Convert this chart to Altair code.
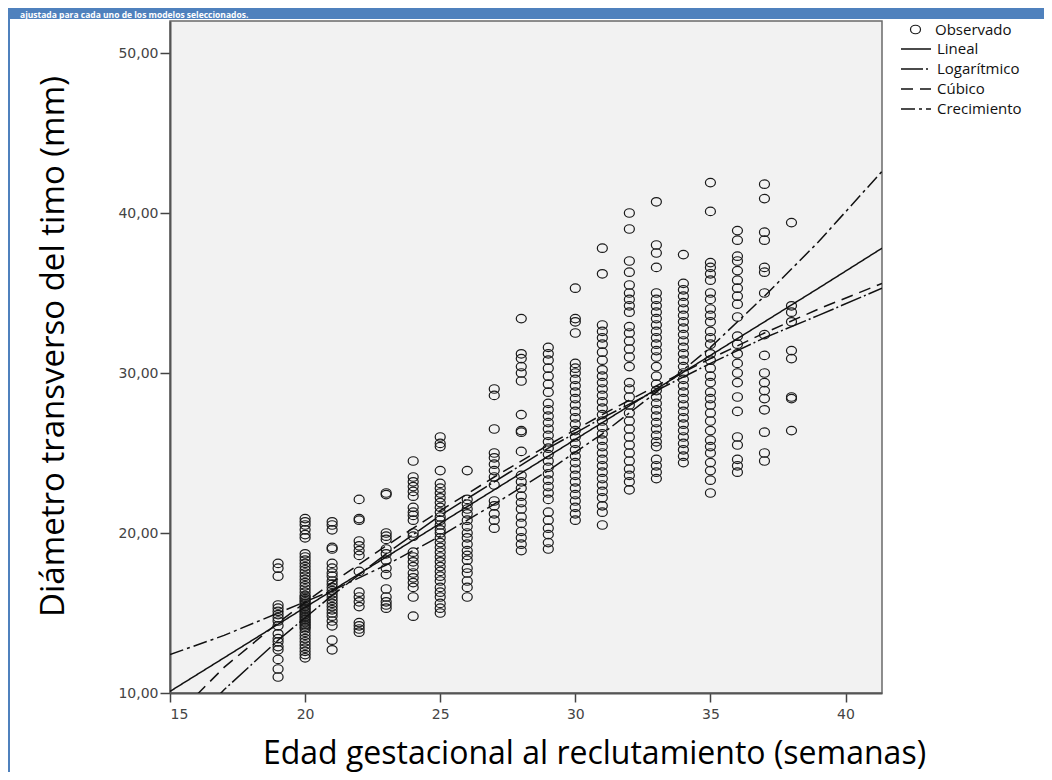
import altair as alt
import pandas as pd

# ---------------- data ----------------
semanas = list(range(19, 39))

y19 = [18.1, 17.8, 17.3, 15.5, 15.3, 15.1, 14.9, 14.7, 14.5, 14.2, 13.7, 13.4, 13.2, 12.9, 12.7, 12.1, 11.5, 11.0]
y20 = [20.9, 20.7, 20.5, 20.2, 19.9, 19.7, 18.7, 18.5, 18.3, 18.1, 17.9, 17.7, 17.5, 17.3, 17.1, 16.9, 16.7,
       16.5, 16.3, 16.1, 16.0, 15.9, 15.8, 15.7, 15.6, 15.5, 15.4, 15.3, 15.2, 15.1, 15.0, 14.9, 14.8, 14.7,
       14.6, 14.5, 14.4, 14.3, 14.2, 14.1, 14.0, 13.8, 13.6, 13.4, 13.2, 13.0, 12.8, 12.6, 12.4, 12.2]
y21 = [20.7, 20.5, 20.2, 19.1, 19.0, 18.1, 17.8, 17.5, 17.3, 17.0, 16.8, 16.6, 16.4, 16.2, 16.0, 15.8, 15.6,
       15.4, 15.2, 15.0, 14.8, 14.5, 14.2, 13.3, 12.7]
y22 = [22.1, 20.9, 20.8, 19.5, 19.2, 18.9, 18.6, 17.6, 16.3, 16.0, 15.7, 15.4, 14.4, 14.2, 14.0, 13.8]
y23 = [22.5, 22.4, 20.0, 19.8, 19.6, 19.0, 18.7, 18.3, 17.8, 17.4, 16.5, 16.0, 15.7, 15.5, 15.3]
y24 = [24.5, 23.5, 23.2, 22.9, 22.6, 22.3, 21.6, 21.3, 21.1, 20.8, 20.0, 19.8, 18.8, 18.5, 18.2, 17.9, 17.5,
       17.2, 16.9, 16.6, 16.0, 14.8]
y25 = [26.0, 25.6, 25.4, 23.9, 23.1, 22.8, 22.5, 22.2, 21.9, 21.6, 21.3, 21.0, 20.8, 20.5, 20.2, 20.0, 19.7,
       19.4, 19.1, 18.8, 18.5, 18.2, 17.9, 17.6, 17.3, 17.0, 16.6, 16.3, 16.0, 15.6, 15.3, 15.0]
y26 = [23.9, 22.1, 21.8, 21.5, 21.2, 20.8, 20.4, 20.0, 19.7, 19.3, 18.9, 18.6, 18.3, 17.8, 17.5, 17.0, 16.6, 16.0]
y27 = [29.0, 28.6, 26.5, 25.0, 24.7, 24.3, 23.9, 23.5, 23.0, 22.0, 21.7, 21.2, 20.8, 20.3]
y28 = [33.4, 31.2, 30.9, 30.4, 30.0, 29.5, 27.4, 26.4, 26.3, 25.1, 23.6, 23.2, 22.8, 22.3, 21.9, 21.5, 21.0,
       20.6, 20.1, 19.7, 19.3, 18.9]
y29 = [31.6, 31.2, 30.8, 30.3, 29.8, 29.3, 28.8, 28.1, 27.7, 27.3, 26.9, 26.5, 26.1, 25.7, 25.3, 24.9, 24.5,
       24.1, 23.7, 23.3, 22.9, 22.5, 22.1, 21.3, 20.8, 20.3, 19.9, 19.4, 19.0]
y30 = [35.3, 33.4, 33.2, 32.5, 30.6, 30.3, 30.0, 29.6, 29.2, 28.8, 28.4, 28.0, 27.6, 27.2, 26.8, 26.4, 26.0,
       25.6, 25.2, 24.8, 24.4, 24.0, 23.6, 23.2, 22.8, 22.4, 22.0, 21.6, 21.2, 20.8]
y31 = [37.8, 36.2, 33.0, 32.6, 32.2, 31.8, 31.3, 30.8, 30.2, 29.8, 29.4, 29.0, 28.6, 28.2, 27.8, 27.4, 27.0,
       26.6, 26.2, 25.8, 25.4, 25.0, 24.6, 24.2, 23.8, 23.4, 23.0, 22.6, 22.2, 21.7, 21.3, 20.5]
y32 = [40.0, 39.0, 37.0, 36.3, 35.5, 35.0, 34.6, 34.2, 33.8, 32.9, 32.5, 32.0, 31.5, 31.0, 30.4, 29.4, 29.0,
       28.5, 28.0, 27.5, 27.0, 26.5, 26.0, 25.5, 25.0, 24.5, 24.0, 23.6, 23.2, 22.7]
y33 = [40.7, 38.0, 37.5, 36.6, 35.0, 34.6, 34.2, 33.8, 33.4, 33.0, 32.6, 32.2, 31.8, 31.4, 31.0, 30.4, 29.8,
       29.3, 28.9, 28.5, 28.1, 27.7, 27.3, 26.9, 26.5, 26.1, 25.7, 25.4, 24.6, 24.2, 23.8, 23.4]
y34 = [37.4, 35.6, 35.2, 34.8, 34.4, 34.0, 33.6, 33.2, 32.8, 32.4, 32.0, 31.6, 31.2, 30.8, 30.4, 30.0, 29.6,
       29.2, 28.8, 28.4, 28.0, 27.6, 27.2, 26.8, 26.4, 26.0, 25.6, 25.2, 24.8, 24.4]
y35 = [41.9, 40.1, 36.9, 36.6, 36.2, 35.8, 35.0, 34.6, 34.0, 33.6, 33.2, 32.6, 32.2, 31.8, 31.2, 30.8, 30.3,
       29.8, 29.4, 28.8, 28.4, 28.0, 27.5, 27.0, 26.4, 25.8, 25.4, 25.0, 24.4, 23.9, 23.3, 22.5]
y36 = [38.9, 38.3, 37.3, 37.0, 36.4, 35.8, 35.3, 34.8, 34.3, 33.5, 32.3, 31.8, 31.2, 30.6, 30.0, 29.4, 28.5,
       27.6, 26.0, 25.5, 24.6, 24.2, 23.8]
y37 = [41.8, 40.9, 38.8, 38.3, 36.6, 36.3, 35.0, 32.4, 31.1, 30.0, 29.4, 28.9, 28.4, 27.7, 26.3, 25.0, 24.5]
y38 = [39.4, 34.2, 33.8, 33.2, 31.4, 30.9, 28.5, 28.4, 26.4]

observados = [y19, y20, y21, y22, y23, y24, y25, y26, y27, y28, y29, y30,
              y31, y32, y33, y34, y35, y36, y37, y38]

# fitted curves at these gestational ages
fit_x = [15, 17, 19, 21, 23, 25, 27, 29, 31, 33, 35, 37, 39, 41.35]
lineal_y = [10.1, 12.2, 14.3, 16.4, 18.5, 20.6, 22.7, 24.8, 26.9, 29.0, 31.1, 33.2, 35.3, 37.8]
log_y = [6.6, 10.2, 13.3, 16.1, 18.7, 21.1, 23.2, 25.3, 27.2, 28.9, 30.6, 32.2, 33.6, 35.3]
cubico_y = [8.2, 11.6, 14.4, 16.9, 19.2, 21.4, 23.5, 25.5, 27.4, 29.2, 30.9, 32.5, 34.0, 35.6]
crec_y = [12.4, 13.6, 15.0, 16.4, 18.0, 19.8, 21.8, 23.9, 26.2, 28.8, 31.6, 34.8, 38.2, 42.6]

modelos = ["Lineal", "Logarítmico", "Cúbico", "Crecimiento"]
curvas = [lineal_y, log_y, cubico_y, crec_y]
dashes = [[1, 0], [22, 3, 2, 3], [12, 7], [14, 4, 3, 4]]

x_ticks = [15, 20, 25, 30, 35, 40]
y_ticks = [10, 20, 30, 40, 50]

titulo = "ajustada para cada uno de los modelos seleccionados."

# ---------------- tables ----------------
obs_rows = []
for w, vals in zip(semanas, observados):
    for v in vals:
        obs_rows.append({"semana": w, "diametro": v, "serie": "Observado"})
obs_df = pd.DataFrame(obs_rows)

fit_rows = []
for m, ys in zip(modelos, curvas):
    for i, (xv, yv) in enumerate(zip(fit_x, ys)):
        fit_rows.append({"semana": xv, "diametro": yv, "modelo": m, "orden": i})
fit_df = pd.DataFrame(fit_rows)

deco_df = pd.DataFrame({"k": [0]})

# ---------------- scales ----------------
xs = alt.Scale(domain=[15, 41.35], nice=False, zero=False)
ys = alt.Scale(domain=[10, 52], nice=False, zero=False)

x_axis = alt.Axis(
    values=x_ticks, grid=False, tickSize=9, tickWidth=1.5, tickColor="#444",
    domainColor="#555", domainWidth=2,
    labelFont="DejaVu Sans", labelFontSize=14, labelColor="#444", labelPadding=5,
    title="Edad gestacional al reclutamiento (semanas)",
    titleFont="Open Sans", titleFontSize=32, titleFontWeight="normal", titleColor="#000",
    titleX=424, titleY=70, titleAlign="center", titleBaseline="alphabetic",
)
y_axis = alt.Axis(
    values=y_ticks, grid=False, tickSize=10, tickWidth=1.5, tickColor="#444",
    domainColor="#555", domainWidth=2,
    labelFont="DejaVu Sans", labelFontSize=14, labelColor="#444", labelPadding=2,
    labelExpr="replace(format(datum.value, '.2f'), '.', ',')",
    title="Diámetro transverso del timo (mm)",
    titleFont="Open Sans", titleFontSize=33, titleFontWeight="normal", titleColor="#000",
    titleX=-107, titleY=325, titleAlign="center", titleBaseline="alphabetic", titleAngle=270,
)

ellipse = "M-1,0A1,0.85,0,1,1,1,0A1,0.85,0,1,1,-1,0Z"

points = alt.Chart(obs_df).mark_point(
    filled=False, size=100, strokeWidth=1.2, opacity=1, color="#1a1a1a"
).encode(
    x=alt.X("semana:Q", scale=xs, axis=x_axis),
    y=alt.Y("diametro:Q", scale=ys, axis=y_axis),
    shape=alt.Shape(
        "serie:N",
        scale=alt.Scale(domain=["Observado"], range=[ellipse]),
        legend=alt.Legend(
            orient="none", legendX=738, legendY=1, title=None,
            labelFont="Open Sans", labelFontSize=15, labelColor="#111",
            labelOffset=12, symbolSize=100, symbolStrokeWidth=1.2,
            symbolStrokeColor="#1a1a1a", symbolFillColor="transparent", padding=0,
        ),
    ),
)

lines = alt.Chart(fit_df).mark_line(
    clip=True, color="#111", strokeWidth=1.5
).encode(
    x=alt.X("semana:Q", scale=xs),
    y=alt.Y("diametro:Q", scale=ys),
    order="orden:Q",
    strokeDash=alt.StrokeDash(
        "modelo:N",
        scale=alt.Scale(domain=modelos, range=dashes),
        sort=modelos,
        legend=alt.Legend(
            orient="none", legendX=730, legendY=20, title=None,
            labelFont="Open Sans", labelFontSize=15, labelColor="#111",
            labelOffset=5, symbolSize=900, symbolStrokeWidth=1.5,
            symbolStrokeColor="#111", symbolType="stroke",
            clipHeight=16, rowPadding=4, padding=0,
        ),
    ),
)

banner = alt.Chart(deco_df).mark_rect(color="#4f81bd").encode(
    x=alt.value(-175), x2=alt.value(1100), y=alt.value(-20), y2=alt.value(-2)
)
side = alt.Chart(deco_df).mark_rect(color="#4f81bd").encode(
    x=alt.value(-175), x2=alt.value(-160), y=alt.value(-20), y2=alt.value(800)
)
banner_text = alt.Chart(deco_df).mark_text(
    align="left", baseline="alphabetic", font="Open Sans", fontWeight="bold",
    fontSize=8.5, color="#ffffff"
).encode(x=alt.value(-150), y=alt.value(-3.5), text=alt.value(titulo))

chart = alt.layer(banner, side, banner_text, points, lines).resolve_legend(
    shape="independent", strokeDash="independent"
).properties(
    width=712, height=672,
    padding={"left": 162, "top": 13, "right": 162, "bottom": 79},
    autosize=alt.AutoSizeParams(type="none"),
).configure_view(
    fill="#f2f2f2", stroke="#6a6a6a", strokeWidth=1.5
)

chart.save("out.html", embed_options={"renderer": "svg", "actions": False})
